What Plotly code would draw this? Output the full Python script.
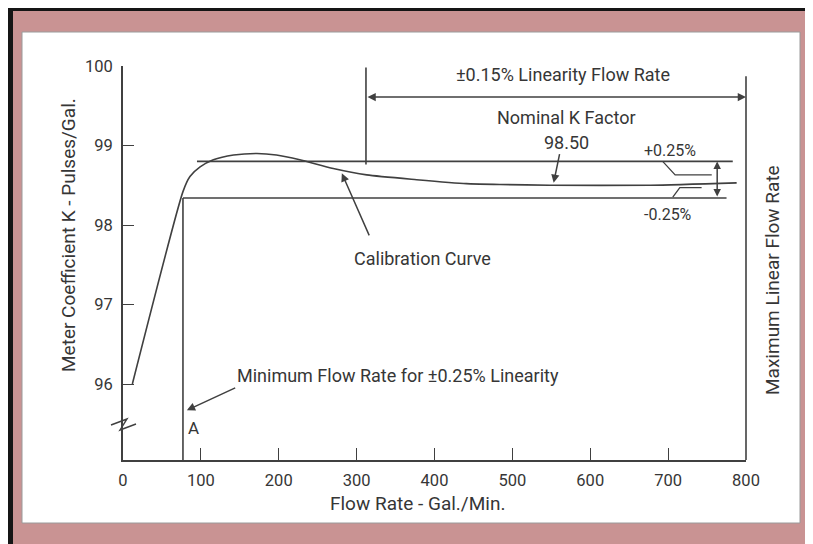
import plotly.graph_objects as go

# ---------------- data ----------------
flow_rate = [12, 77, 86, 99, 116, 142, 172, 197, 227, 270, 313, 377, 441, 484, 548, 677, 788]
k_factor = [96.0, 98.42, 98.61, 98.73, 98.82, 98.88, 98.90, 98.88, 98.82, 98.71, 98.63, 98.57,
            98.52, 98.51, 98.50, 98.50, 98.53]
x_ticks = [0, 100, 200, 300, 400, 500, 600, 700, 800]
y_ticks = [96, 97, 98, 99, 100]
nominal_k = 98.50
upper_band = 98.80
lower_band = 98.34
band_upper_x = [95, 783]
band_lower_x = [77, 775]
min_flow_a = 77
linear_start = 312
max_flow_b = 800

# ---------------- geometry ----------------
WIN_W, WIN_H = 813, 544
OFF = 8  # page offset of the figure inside the window
W, H = WIN_W - OFF, WIN_H - OFF
AX_L, AX_R, AX_T, AX_B = 123, 746, 66, 460  # plot area in window pixels
ML, MT = AX_L - OFF, AX_T - OFF
MR, MB = WIN_W - AX_R, WIN_H - AX_B
X_RANGE = [0, 800]
Y_RANGE = [95.044, 100]
PW = AX_R - AX_L
PH = AX_B - AX_T

def fx(p):  # window pixel x -> paper
    return (p - AX_L) / PW

def fy(p):  # window pixel y -> paper
    return (AX_B - p) / PH

def dx(v):  # data x -> paper
    return (v - X_RANGE[0]) / (X_RANGE[1] - X_RANGE[0])

def dy(v):  # data y -> paper
    return (v - Y_RANGE[0]) / (Y_RANGE[1] - Y_RANGE[0])

LC = "#404040"
TC = "#363636"
LW = 1.6
FONT = "Roboto, 'Open Sans', sans-serif"
FS = 18

fig = go.Figure()

def seg(xs, ys, width=LW):
    fig.add_trace(go.Scatter(x=xs, y=ys, mode="lines", line=dict(color=LC, width=width),
                             hoverinfo="skip", showlegend=False))

# calibration curve
fig.add_trace(go.Scatter(x=flow_rate, y=k_factor, mode="lines",
                         line=dict(color=LC, width=LW, shape="spline", smoothing=0.6),
                         hoverinfo="skip", showlegend=False))
# band lines
seg(band_upper_x, [upper_band, upper_band])
seg(band_lower_x, [lower_band, lower_band])
# A vertical line
seg([min_flow_a, min_flow_a], [lower_band, Y_RANGE[0]])
# start of linear range vertical
seg([linear_start, linear_start], [99.98, 98.76])
# leader lines for +/-0.25%
seg([693, 709, 756], [98.80, 98.63, 98.63], 1.3)
seg([706, 715, 743], [98.35, 98.47, 98.47], 1.3)

shapes = [
    # dark edges at the very top / left of the picture
    dict(type="rect", xref="paper", yref="paper", x0=fx(OFF), x1=fx(WIN_W + OFF), y0=fy(OFF + 3), y1=fy(OFF),
         fillcolor="#151515", line=dict(width=0), layer="below"),
    dict(type="rect", xref="paper", yref="paper", x0=fx(OFF), x1=fx(OFF + 5), y0=fy(WIN_H + OFF), y1=fy(OFF),
         fillcolor="#151515", line=dict(width=0), layer="below"),
    # white panel
    dict(type="rect", xref="paper", yref="paper", x0=fx(22), x1=fx(800), y0=fy(523), y1=fy(32),
         fillcolor="white", line=dict(color="#9a9a9a", width=1), layer="below"),
    # B vertical line at maximum linear flow rate
    dict(type="line", xref="paper", yref="paper", x0=dx(max_flow_b), x1=dx(max_flow_b),
         y0=dy(Y_RANGE[0]), y1=dy(99.87), line=dict(color=LC, width=LW)),
    # axis break symbol
    dict(type="path", xref="paper", yref="paper",
         path=f"M {fx(111)},{fy(425)} L {fx(127)},{fy(419)} L {fx(120)},{fy(430)} L {fx(136)},{fy(424)}",
         line=dict(color=LC, width=1.4)),
]

def arrow(x, y, ax, ay, side="end", head=2, size=1.1):
    return dict(x=x, y=y, ax=ax, ay=ay, xref="x", yref="y", axref="x", ayref="y", text="",
                showarrow=True, arrowhead=head, arrowsize=size, arrowwidth=1.5, arrowcolor=LC,
                arrowside=side, startarrowhead=head, startarrowsize=size, standoff=0, startstandoff=0)

def label(x, y, text, xanchor="center", size=FS, xref="x", yref="y", angle=0):
    return dict(x=x, y=y, xref=xref, yref=yref, text=text, showarrow=False, xanchor=xanchor,
                yanchor="middle", textangle=angle, font=dict(family=FONT, size=size, color=TC))

annotations = [
    arrow(max_flow_b, 99.61, linear_start, 99.61, side="end+start"),
    arrow(553, 98.53, 561, 98.91),
    arrow(763, upper_band, 763, lower_band, side="end+start", size=1.0),
    arrow(281, 98.65, 317, 97.85),
    arrow(82, 95.67, 146, 95.96),
    label(565, 99.89, "±0.15% Linearity Flow Rate"),
    label(570, 99.35, "Nominal K Factor"),
    label(570, 99.04, "98.50"),
    label(702, 98.94, "+0.25%", size=16),
    label(700, 98.13, "-0.25%", size=16),
    label(385, 97.58, "Calibration Curve"),
    label(144, 96.11, "Minimum Flow Rate for ±0.25% Linearity", xanchor="left"),
    label(90, 95.45, "A", size=17),
    label(815, 95.46, "B", size=17),
    label(fx(772), fy(280), "Maximum Linear Flow Rate", xref="paper", yref="paper", angle=-90, size=19),
    label(fx(68), fy(235), "Meter Coefficient K - Pulses/Gal.", xref="paper", yref="paper", angle=-90, size=19),
    label(fx(417), fy(503), "Flow Rate - Gal./Min.", xref="paper", yref="paper", size=19),
]

axis_common = dict(showgrid=False, zeroline=False, showline=True, linecolor=LC, linewidth=LW,
                   ticks="inside", tickcolor=LC, tickwidth=1.4,
                   tickfont=dict(family=FONT, size=16.5, color=TC))

fig.update_layout(
    width=W, height=H,
    margin=dict(l=ML, r=MR, t=MT, b=MB, pad=0),
    paper_bgcolor="#c99393",
    plot_bgcolor="rgba(0,0,0,0)",
    xaxis=dict(range=X_RANGE, tickvals=x_ticks, ticklen=12, ticklabelstandoff=4, **axis_common),
    yaxis=dict(range=Y_RANGE, tickvals=y_ticks, ticklen=11, ticklabelstandoff=5, **axis_common),
    shapes=shapes,
    annotations=annotations,
    showlegend=False,
)

fig.write_html("out.html")
